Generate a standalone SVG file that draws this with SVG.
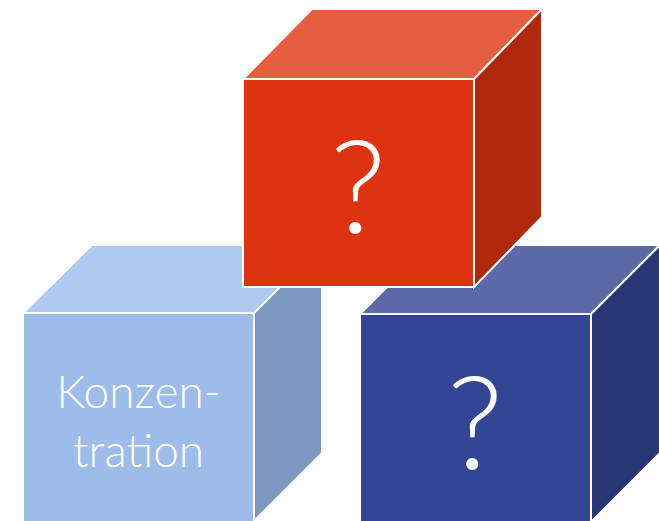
<svg xmlns="http://www.w3.org/2000/svg" width="659" height="521" viewBox="0 0 659 521">
<style>
.f{stroke:#ffffff;stroke-width:2;stroke-linejoin:miter}
.t{fill:#ffffff;font-family:Lato,"Noto Sans",sans-serif;font-weight:300;text-anchor:middle}
</style>
<rect width="659" height="521" fill="#ffffff"/>
<g id="cube-konzentration">
<polygon class="f" fill="#AFCAEF" points="23,313 92,245 322,245 254,313"/>
<polygon class="f" fill="#7C98BE" points="254,313 322,245 322,453 254,521"/>
<rect class="f" fill="#9DBCE9" x="23" y="313" width="231" height="212"/>
<text class="t" x="138.5" y="408" font-size="46">Konzen-</text>
<text class="t" x="138.5" y="467" font-size="46">tration</text>
</g>
<g id="cube-blue">
<polygon class="f" fill="#5C6BA8" points="360,314 429,245 660,245 591,314"/>
<polygon class="f" fill="#2A3775" points="591,314 660,245 660,453 591,522"/>
<rect class="f" fill="#334693" x="360" y="314" width="231" height="212"/>
<text class="t" x="475" y="469" font-size="130">?</text>
</g>
<g id="cube-red">
<polygon class="f" fill="#E55E3F" points="243,79 312,9 542,9 474,79"/>
<polygon class="f" fill="#B0280C" points="474,79 542,9 542,217 474,287"/>
<rect class="f" fill="#DD3310" x="243" y="79" width="231" height="208"/>
<text class="t" x="358" y="233" font-size="130">?</text>
</g>
<g id="connectors"/>
</svg>
